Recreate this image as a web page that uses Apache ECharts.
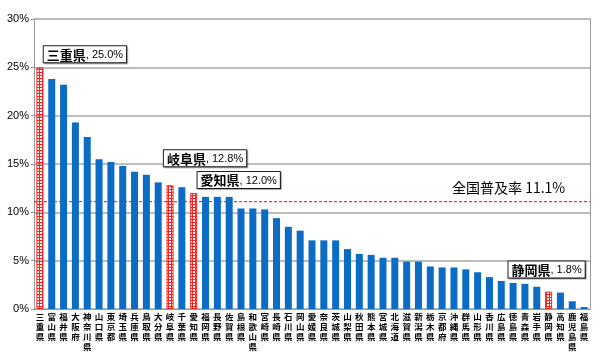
<!DOCTYPE html>
<html>
<head>
<meta charset="utf-8">
<script src="https://cdn.jsdelivr.net/npm/echarts@6/dist/echarts.min.js"></script>
<style>
  html, body { margin: 0; padding: 0; background: #fff; }
  #chart { width: 600px; height: 352px; }
</style>
</head>
<body>
<div id="chart"></div>
<script>
const prefs = [
  "三重県", "富山県", "福井県", "大阪府", "神奈川県", "山口県", "東京都", "埼玉県",
  "兵庫県", "鳥取県", "大分県", "岐阜県", "千葉県", "愛知県", "福岡県", "長野県",
  "佐賀県", "島根県", "和歌山県", "宮崎県", "長崎県", "石川県", "岡山県", "愛媛県",
  "奈良県", "茨城県", "山梨県", "秋田県", "熊本県", "宮城県", "北海道", "滋賀県",
  "新潟県", "栃木県", "京都府", "沖縄県", "群馬県", "山形県", "香川県", "広島県",
  "徳島県", "青森県", "岩手県", "静岡県", "高知県", "鹿児島県", "福島県"
];
const rates = [
  25.0, 23.8, 23.2, 19.3, 17.8, 15.5, 15.2, 14.8,
  14.2, 13.9, 13.1, 12.8, 12.6, 12.0, 11.6, 11.6,
  11.6, 10.4, 10.4, 10.3, 9.4, 8.5, 8.1, 7.1,
  7.1, 7.1, 6.2, 5.7, 5.6, 5.3, 5.3, 4.9,
  4.9, 4.4, 4.3, 4.3, 4.1, 3.8, 3.3, 2.9,
  2.7, 2.6, 2.3, 1.8, 1.7, 0.8, 0.2
];
const nationalRate = 11.1;
const yTicks = [0, 5, 10, 15, 20, 25, 30];

// highlighted prefectures and where their callout boxes sit
const callouts = {
  "三重県": [45, -5],
  "岐阜県": [35, -19],
  "愛知県": [45, -5],
  "静岡県": [-2, -14]
};

// red grid hatch for highlighted bars
const hatch = document.createElement("canvas");
hatch.width = 3;
hatch.height = 3;
const hc = hatch.getContext("2d");
hc.fillStyle = "#ff2020";
hc.fillRect(0, 0, 3, 1);
hc.fillRect(0, 0, 1, 3);

const chart = echarts.init(document.getElementById("chart"));

const barData = prefs.map((name, i) => {
  const off = callouts[name];
  if (!off) return rates[i];
  return {
    value: rates[i],
    itemStyle: {
      color: { image: hatch, repeat: "repeat" },
      borderColor: "#ff2020",
      borderWidth: 1
    },
    label: {
      show: true,
      position: "top",
      distance: 0,
      offset: off,
      formatter: name + "{v|, " + rates[i].toFixed(1) + "%}",
      fontFamily: "Noto Sans CJK JP",
      fontSize: 13,
      fontWeight: "bold",
      color: "#000",
      backgroundColor: "#fff",
      borderColor: "#222",
      borderWidth: 1,
      padding: [2, 3, 1, 3],
      shadowColor: "rgba(0,0,0,0.35)",
      shadowOffsetX: 1,
      shadowOffsetY: 1,
      shadowBlur: 1,
      rich: {
        v: { fontFamily: "Liberation Sans", fontSize: 11, color: "#000", fontWeight: "normal" }
      }
    }
  };
});

chart.setOption({
  animation: false,
  grid: { left: 34, right: 10, top: 19, bottom: 42 },
  xAxis: [
    {
      type: "category",
      data: prefs,
      axisLine: { lineStyle: { color: "#999", width: 1 } },
      axisTick: { show: false },
      axisLabel: {
        interval: 0,
        margin: 3,
        fontFamily: "Noto Sans CJK JP",
        fontSize: 8.5,
        fontWeight: "bold",
        lineHeight: 10,
        color: "#000",
        formatter: (v) => v.split("").join("\n")
      }
    },
    // hidden 0..1 axis so the national line spans the whole plot
    { type: "value", min: 0, max: 1, show: false }
  ],
  yAxis: [
    {
      type: "value",
      min: yTicks[0],
      max: yTicks[yTicks.length - 1],
      interval: 5,
      axisLine: { show: true, lineStyle: { color: "#999" } },
      axisTick: { show: true, length: 3, lineStyle: { color: "#999" } },
      splitLine: { lineStyle: { color: "#bdbdbd", width: 2 } },
      axisLabel: {
        formatter: "{value}%",
        fontFamily: "Liberation Sans",
        fontSize: 11,
        color: "#000",
        margin: 5
      }
    },
    {
      type: "value",
      position: "right",
      min: 0,
      max: 30,
      axisLine: { show: true, lineStyle: { color: "#999" } },
      axisTick: { show: false },
      axisLabel: { show: false },
      splitLine: { show: false }
    }
  ],
  series: [
    {
      type: "line",
      xAxisIndex: 1,
      data: [[0, nationalRate], [1, nationalRate]],
      z: 1,
      silent: true,
      showSymbol: false,
      color: "#ff0000",
      lineStyle: { color: "#ff0000", type: [3, 2], width: 1 },
      endLabel: {
        show: true,
        offset: [-146, -14],
        formatter: "全国普及率 " + nationalRate + "%",
        fontFamily: "Noto Sans CJK JP",
        fontSize: 14,
        color: "#000"
      }
    },
    {
      type: "bar",
      data: barData,
      z: 2,
      barWidth: 7,
      itemStyle: { color: "#0a6cc4" }
    }
  ]
});
</script>
</body>
</html>
